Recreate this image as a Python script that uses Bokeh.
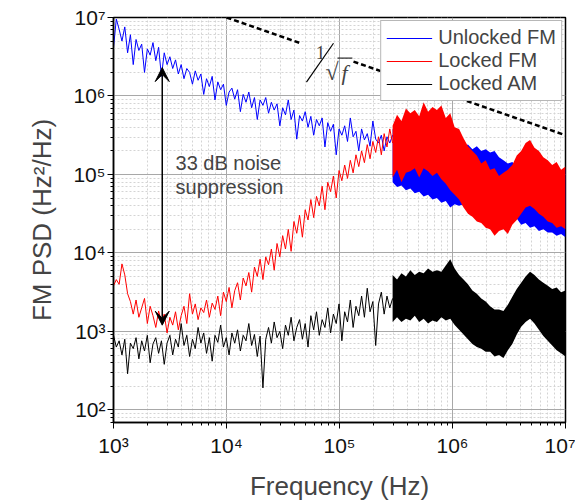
import numpy as np
from bokeh.plotting import figure
from bokeh.models import (Range1d, FixedTicker, CustomJSTickFormatter, Label,
                          Arrow, VeeHead, Title, Legend, LegendItem)
from bokeh.embed import file_html
from bokeh.resources import INLINE

# ---------------- data (PSD values as log10(Hz^2/Hz)) ----------------
# sparse part of the spectra, 1 kHz ... ~300 kHz
freq_sparse = np.logspace(3.0, 5.47, 100)

unlocked_fm_log = [
    6.62, 6.98, 6.85, 6.70, 6.88, 6.55, 6.78, 6.40, 6.72, 6.58,
    6.66, 6.30, 6.60, 6.52, 6.68, 6.45, 6.62, 6.25, 6.55, 6.40,
    6.50, 6.35, 6.46, 6.28, 6.40, 6.22, 6.35, 6.30, 6.15, 6.32,
    6.20, 6.28, 6.02, 6.22, 6.12, 6.25, 5.95, 6.18, 6.08, 6.15,
    5.88, 6.05, 6.10, 5.96, 6.08, 5.80, 6.02, 5.92, 6.05, 5.85,
    5.98, 5.70, 5.95, 5.88, 5.98, 5.78, 5.92, 5.82, 5.90, 5.62,
    5.85, 5.76, 5.95, 5.70, 5.82, 5.45, 5.75, 5.68, 5.80, 5.60,
    5.74, 5.50, 5.70, 5.62, 5.72, 5.35, 5.66, 5.55, 5.64, 5.25,
    5.58, 5.50, 5.62, 5.42, 5.72, 5.48, 5.55, 5.30, 5.58, 5.44,
    5.52, 5.36, 5.68, 5.45, 5.40, 5.50, 5.30, 5.48, 5.40, 5.50,
]

locked_fm_log = [
    3.58, 3.66, 3.60, 3.86, 3.72, 3.48, 3.38, 3.22, 3.40, 3.18,
    3.30, 3.42, 3.10, 3.32, 3.20, 3.05, 3.26, 3.12, 3.22, 2.98,
    3.18, 3.08, 3.25, 3.02, 3.20, 3.32, 3.10, 3.48, 3.22, 3.35,
    3.15, 3.30, 3.24, 3.40, 3.18, 3.36, 3.28, 3.45, 3.20, 3.50,
    3.38, 3.56, 3.30, 3.52, 3.62, 3.40, 3.68, 3.58, 3.75, 3.50,
    3.82, 3.70, 3.92, 3.66, 3.95, 3.85, 4.05, 3.78, 4.12, 3.95,
    4.22, 4.05, 4.30, 4.02, 4.40, 4.25, 4.48, 4.20, 4.55, 4.42,
    4.68, 4.45, 4.72, 4.60, 4.85, 4.55, 4.90, 4.78, 4.98, 4.70,
    5.05, 4.92, 5.12, 4.95, 5.18, 5.02, 5.25, 5.10, 5.30, 5.15,
    5.38, 5.20, 5.42, 5.28, 5.48, 5.25, 5.52, 5.35, 5.58, 5.40,
]

locked_am_log = [
    2.95, 2.80, 2.88, 2.70, 2.90, 2.46, 2.85, 2.78, 2.92, 2.65,
    2.88, 2.75, 2.95, 2.60, 2.84, 2.92, 2.72, 2.88, 2.58, 2.85,
    2.95, 2.70, 2.90, 2.80, 3.10, 2.82, 2.95, 2.68, 2.90, 2.78,
    3.05, 2.85, 2.98, 2.72, 2.92, 2.62, 2.95, 2.86, 3.08, 2.80,
    2.92, 2.70, 2.98, 2.85, 3.02, 2.75, 2.95, 2.88, 3.10, 2.82,
    2.96, 2.68, 2.94, 2.28, 2.90, 3.05, 2.85, 3.12, 2.92, 3.00,
    2.78, 3.08, 2.95, 3.18, 2.88, 3.05, 3.15, 2.90, 3.10, 2.80,
    3.20, 3.02, 3.25, 2.95, 3.15, 3.05, 3.30, 2.98, 3.22, 3.10,
    3.35, 2.88, 3.25, 3.12, 3.40, 3.05, 3.32, 3.20, 3.45, 3.18,
    3.55, 3.25, 3.38, 2.82, 3.35, 3.50, 3.22, 3.45, 3.30, 3.42,
]

# dense part (~300 kHz ... 10 MHz): upper / lower envelopes of the trace
freq_dense = np.logspace(5.47, 7.0, 40)

unlocked_fm_hi = [
    5.58, 5.52, 5.54, 5.48, 5.50, 5.46, 5.44, 5.48, 5.40, 5.42,
    5.38, 5.40, 5.36, 5.38, 5.34, 5.40, 5.36, 5.38, 5.32, 5.36,
    5.30, 5.32, 5.28, 5.30, 5.22, 5.18, 5.14, 5.16, 5.10, 5.12,
    5.08, 5.12, 5.10, 5.14, 5.08, 5.10, 5.06, 5.08, 5.04, 5.06,
]
unlocked_fm_lo = [
    4.90, 4.84, 4.86, 4.80, 4.82, 4.76, 4.78, 4.72, 4.74, 4.68,
    4.70, 4.64, 4.66, 4.58, 4.62, 4.60, 4.62, 4.60, 4.64, 4.62,
    4.64, 4.60, 4.62, 4.56, 4.56, 4.50, 4.50, 4.44, 4.44, 4.36,
    4.38, 4.32, 4.34, 4.28, 4.30, 4.26, 4.26, 4.22, 4.24, 4.20,
]
locked_fm_hi = [
    5.62, 5.76, 5.68, 5.84, 5.78, 5.82, 5.74, 5.92, 5.80, 5.86,
    5.82, 5.88, 5.72, 5.78, 5.60, 5.58, 5.46, 5.36, 5.30, 5.24,
    5.14, 5.18, 5.06, 5.08, 4.98, 5.02, 5.06, 5.12, 5.24, 5.30,
    5.40, 5.44, 5.34, 5.30, 5.22, 5.18, 5.12, 5.16, 5.06, 5.10,
]
locked_fm_lo = [
    4.96, 5.06, 4.90, 5.02, 5.04, 5.08, 4.96, 5.08, 5.04, 4.98,
    5.02, 4.94, 4.88, 4.80, 4.74, 4.68, 4.58, 4.50, 4.46, 4.40,
    4.38, 4.32, 4.30, 4.22, 4.28, 4.30, 4.24, 4.36, 4.42, 4.50,
    4.58, 4.60, 4.56, 4.50, 4.46, 4.40, 4.38, 4.32, 4.34, 4.30,
]
locked_am_hi = [
    3.72, 3.66, 3.74, 3.70, 3.78, 3.72, 3.76, 3.74, 3.80, 3.76,
    3.78, 3.76, 3.84, 3.92, 3.80, 3.72, 3.66, 3.60, 3.52, 3.48,
    3.42, 3.38, 3.32, 3.28, 3.28, 3.26, 3.34, 3.44, 3.54, 3.62,
    3.70, 3.76, 3.72, 3.66, 3.62, 3.58, 3.54, 3.56, 3.50, 3.52,
]
locked_am_lo = [
    3.12, 3.18, 3.12, 3.16, 3.14, 3.20, 3.12, 3.16, 3.10, 3.14,
    3.12, 3.18, 3.14, 3.16, 3.08, 3.02, 2.96, 2.90, 2.84, 2.80,
    2.78, 2.74, 2.74, 2.68, 2.70, 2.66, 2.76, 2.84, 2.96, 3.06,
    3.12, 3.16, 3.10, 3.02, 2.94, 2.88, 2.82, 2.76, 2.72, 2.68,
]

series_labels = ["Unlocked FM", "Locked FM", "Locked AM"]
series_colors = ["#0000ff", "#ff0000", "#000000"]

# 1/sqrt(f) guide line (two dashed pieces, gap for its label)
guide_f = [[1e4, 4.5e4], [1.33e5, 1e7]]
guide_psd = [[1e7, 4.71e6], [2.74e6, 3.16e5]]

# 33 dB suppression arrow
arrow_f = 2.7e3
arrow_psd_low = 1.2e3
arrow_psd_high = 2.3e6

def p10(a):
    return [10.0 ** v for v in a]

FONT = "Liberation Sans"

p = figure(x_axis_type="log", y_axis_type="log",
           x_range=Range1d(1e3, 1e7), y_range=Range1d(69, 1e7),
           frame_width=452, frame_height=405,
           min_border_left=113, min_border_right=10,
           min_border_top=17, min_border_bottom=80,
           output_backend="svg", toolbar_location=None)
p.outline_line_color = "black"
p.outline_line_width = 1.5

major = [1e2, 1e3, 1e4, 1e5, 1e6, 1e7]
minor = [m * 10.0 ** e for e in range(1, 7) for m in range(2, 10)]
ticker = FixedTicker(ticks=major, minor_ticks=minor)
fmt = CustomJSTickFormatter(code="""
const sup = {"0":"\u2070","1":"\u00b9","2":"\u00b2","3":"\u00b3","4":"\u2074",
             "5":"\u2075","6":"\u2076","7":"\u2077","8":"\u2078","9":"\u2079","-":"\u207b"};
const e = Math.round(Math.log10(tick));
return "10" + String(e).split("").map(c => sup[c]).join("");
""")
for ax in (p.xaxis[0], p.yaxis[0]):
    ax.ticker = ticker
    ax.formatter = fmt
    ax.axis_line_width = 1.5
    ax.axis_line_color = "black"
    ax.major_tick_line_color = "black"
    ax.minor_tick_line_color = "black"
    ax.major_tick_out = 6
    ax.major_tick_in = 0
    ax.minor_tick_out = 3
    ax.minor_tick_in = 0
    ax.major_label_text_font = FONT
    ax.major_label_text_font_size = "21px"
    ax.major_label_text_color = "#111111"
p.xaxis.major_label_standoff = 5
p.yaxis.major_label_standoff = 2
p.xaxis.axis_label = "Frequency (Hz)"
p.xaxis.axis_label_text_font = FONT
p.xaxis.axis_label_text_font_size = "26px"
p.xaxis.axis_label_text_font_style = "normal"
p.xaxis.axis_label_standoff = 11

for g in (p.xgrid[0], p.ygrid[0]):
    g.ticker = ticker
    g.grid_line_color = "#a8a8a8"
    g.grid_line_width = 1
    g.minor_grid_line_color = "#d4d4d4"
    g.minor_grid_line_dash = "2 2"

# y axis title, as a side title so it can be shifted along the axis
p.add_layout(Title(text="FM PSD (Hz\u00b2/Hz)", align="center", offset=-22,
                   text_font=FONT, text_font_size="26px", text_font_style="normal",
                   standoff=27), "left")

# traces
sparse = [unlocked_fm_log, locked_fm_log, locked_am_log]
dense = [(unlocked_fm_lo, unlocked_fm_hi), (locked_fm_lo, locked_fm_hi),
         (locked_am_lo, locked_am_hi)]
items = []
for lab, col, sp, (lo, hi) in zip(series_labels, series_colors, sparse, dense):
    r = p.line(freq_sparse, p10(sp), line_color=col, line_width=1)
    p.varea(x=freq_dense, y1=p10(lo), y2=p10(hi), fill_color=col)
    items.append(LegendItem(label=lab, renderers=[r]))

# guide line and its label
p.multi_line(xs=guide_f, ys=guide_psd, line_color="black", line_width=2.5, line_dash="5 3")
p.add_layout(Label(x=6.79e4, y=3.58e6, text="1", text_font="Liberation Serif",
                   text_font_size="19px", text_align="center", text_baseline="middle"))
p.segment(x0=[8.85e4], y0=[4.7e6], x1=[5.1e4], y1=[1.5e6], line_color="black", line_width=1.2)
p.add_layout(Label(x=8.6e4, y=2.05e6, text="\u221a", text_font="Liberation Serif",
                   text_font_size="24px", text_align="center", text_baseline="middle"))
p.segment(x0=[9.6e4], y0=[3.04e6], x1=[1.30e5], y1=[3.04e6], line_color="black", line_width=1)
p.add_layout(Label(x=1.107e5, y=2.0e6, text="f", text_font="Liberation Serif",
                   text_font_style="italic", text_font_size="22px",
                   text_align="center", text_baseline="middle"))

# arrow + annotation
p.add_layout(Arrow(x_start=arrow_f, y_start=arrow_psd_low, x_end=arrow_f, y_end=arrow_psd_high,
                   line_width=1.5, line_color="black",
                   start=VeeHead(size=14, fill_color="black", line_color="black"),
                   end=VeeHead(size=14, fill_color="black", line_color="black")))
p.add_layout(Label(x=3.54e3, y=1.41e5, text="33 dB noise", text_font=FONT,
                   text_font_size="20px", text_baseline="middle"))
p.add_layout(Label(x=3.54e3, y=6.98e4, text="suppression", text_font=FONT,
                   text_font_size="20px", text_baseline="middle"))

lg = Legend(items=items, location="top_right", margin=3, padding=5, spacing=0,
            label_height=22, glyph_height=22, glyph_width=46, label_standoff=6,
            label_text_font=FONT, label_text_font_size="20px",
            border_line_color="#707070", border_line_width=1, background_fill_alpha=1)
p.add_layout(lg, "center")

open("out.html", "w").write(file_html(p, INLINE))
